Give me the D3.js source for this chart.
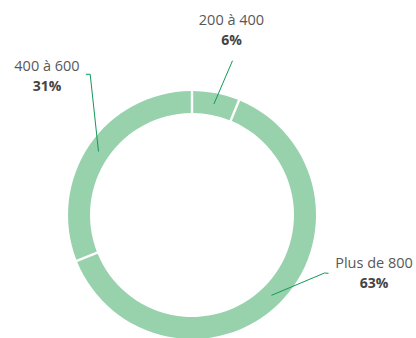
<!DOCTYPE html>
<html><head><meta charset="utf-8">
<script src="https://cdn.jsdelivr.net/npm/d3@7"></script>
<style>html,body{margin:0;padding:0;background:#fff;}svg{display:block;}</style>
</head><body>
<svg id="c" width="416" height="338"></svg>
<script>
const categories = ["200 à 400", "Plus de 800", "400 à 600"];
const values = [6, 63, 31];
const valueLabels = ["6%", "63%", "31%"];

// layout (relative to chart centre)
const layout = [
  {elbow: [40.5, -154.3], tail: null, tx: 39.5, ty: -190, anchor: "middle"},
  {elbow: [132.5, 58], tail: [136.5, 58.3], tx: 182, ty: 53, anchor: "middle"},
  {elbow: [-101.8, -140.7], tail: [-106.1, -140.7], tx: -145, ty: -144.3, anchor: "middle"}
];

const W = 416, H = 338, cx = 192, cy = 215, rOuter = 124, rInner = 102;
const svg = d3.select("#c");
const g = svg.append("g").attr("transform", `translate(${cx},${cy})`);
const data = categories.map((c, i) => ({cat: c, value: values[i], label: valueLabels[i], lay: layout[i]}));
const pie = d3.pie().sort(null).value(d => d.value).padAngle(0.015);
const arc = d3.arc().innerRadius(rInner).outerRadius(rOuter);
const midArc = d3.arc().innerRadius((rInner + rOuter) / 2).outerRadius((rInner + rOuter) / 2);
const arcs = pie(data);

g.selectAll("path.slice").data(arcs).enter().append("path")
  .attr("class", "slice").attr("d", arc).attr("fill", "#98d2ad");

arcs.forEach(a => {
  const c = midArc.centroid(a);
  const pts = [c, a.data.lay.elbow];
  if (a.data.lay.tail) pts.push(a.data.lay.tail);
  g.append("path").attr("d", d3.line()(pts)).attr("fill", "none")
    .attr("stroke", "#12985a").attr("stroke-width", 1);
  const t = g.append("text").attr("text-anchor", a.data.lay.anchor)
    .attr("font-family", "'Open Sans', sans-serif");
  t.append("tspan").attr("x", a.data.lay.tx).attr("y", a.data.lay.ty)
    .attr("font-size", 14.5).attr("fill", "#585858").attr("font-weight", 400).text(a.data.cat);
  t.append("tspan").attr("x", a.data.lay.tx).attr("y", a.data.lay.ty + 20)
    .attr("font-size", 14).attr("fill", "#444").attr("font-weight", 700).text(a.data.label);
});
</script>
</body></html>
